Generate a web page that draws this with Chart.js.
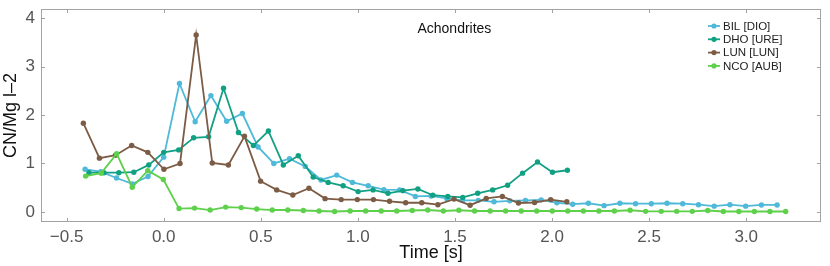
<!DOCTYPE html>
<html>
<head>
<meta charset="utf-8">
<script src="https://cdn.jsdelivr.net/npm/chart.js@4.4.1/dist/chart.umd.min.js"></script>
<style>
  html,body{margin:0;padding:0;background:#fff}
  #wrap{position:relative;width:830px;height:266px}
</style>
</head>
<body>
<div id="wrap"><canvas id="c"></canvas></div>
<script>
/* ===== datos ===== */
const chartTitle = 'Achondrites';
const seriesNames = ['BIL [DIO]','DHO [URE]','LUN [LUN]','NCO [AUB]'];
const seriesColors = ['#4fb9d9','#12a083','#7c5c45','#5fd04b'];

const bilT = [-0.405,-0.324,-0.243,-0.162,-0.081,0.000,0.081,0.162,0.243,0.324,0.405,0.486,0.567,0.648,0.729,0.810,0.891,0.972,1.053,1.134,1.215,1.296,1.377,1.458,1.539,1.620,1.701,1.782,1.863,1.944,2.025,2.106,2.187,2.268,2.349,2.430,2.511,2.592,2.673,2.754,2.835,2.916,2.997,3.078,3.159];
const bilV = [0.88,0.83,0.70,0.58,0.73,1.13,2.65,1.86,2.40,1.87,2.03,1.34,1.00,1.10,0.94,0.66,0.76,0.61,0.54,0.46,0.455,0.32,0.33,0.28,0.24,0.24,0.21,0.23,0.24,0.25,0.19,0.16,0.18,0.13,0.18,0.17,0.17,0.18,0.17,0.15,0.12,0.15,0.12,0.145,0.145];

const dhoT = [-0.385,-0.308,-0.231,-0.154,-0.077,0.000,0.077,0.154,0.231,0.308,0.385,0.462,0.539,0.616,0.693,0.770,0.847,0.924,1.001,1.078,1.155,1.232,1.309,1.386,1.463,1.540,1.617,1.694,1.771,1.848,1.925,2.002,2.079];
const dhoV = [0.81,0.81,0.81,0.82,0.97,1.23,1.28,1.53,1.55,2.55,1.64,1.37,1.67,0.97,1.16,0.72,0.61,0.54,0.42,0.455,0.385,0.44,0.475,0.345,0.32,0.30,0.385,0.455,0.55,0.80,1.03,0.82,0.86];

const lunT = [-0.414,-0.331,-0.248,-0.165,-0.082,0.001,0.084,0.167,0.250,0.333,0.416,0.499,0.582,0.665,0.748,0.831,0.914,0.997,1.080,1.163,1.246,1.329,1.412,1.495,1.578,1.661,1.744,1.827,1.910,1.993,2.076];
const lunV = [1.83,1.11,1.17,1.37,1.23,0.88,1.00,3.65,1.01,0.97,1.56,0.635,0.455,0.35,0.49,0.275,0.255,0.255,0.255,0.22,0.19,0.19,0.15,0.265,0.14,0.28,0.32,0.185,0.195,0.255,0.21];

const ncoT = [-0.402,-0.322,-0.242,-0.162,-0.082,-0.002,0.079,0.159,0.239,0.319,0.399,0.479,0.559,0.639,0.719,0.800,0.880,0.960,1.040,1.120,1.200,1.280,1.360,1.440,1.520,1.601,1.681,1.761,1.841,1.921,2.001,2.081,2.161,2.241,2.321,2.402,2.482,2.562,2.642,2.722,2.802,2.882,2.962,3.042,3.122,3.203];
const ncoV = [0.74,0.80,1.20,0.51,0.85,0.67,0.07,0.08,0.04,0.10,0.09,0.06,0.04,0.04,0.03,0.02,0.01,0.02,0.02,0.02,0.02,0.03,0.04,0.02,0.035,0.02,0.02,0.02,0.02,0.02,0.02,0.02,0.02,0.02,0.02,0.035,0.013,0.013,0.013,0.013,0.03,0.01,0.01,0.01,0.01,0.01];

const xTicks = [-0.5,0,0.5,1,1.5,2,2.5,3];
const yTicks = [0,1,2,3,4];

/* ===== helpers ===== */
const FONT = '"Liberation Sans", Arial, Helvetica, sans-serif';
const pts = (t,v) => t.map((x,i)=>({x, y:v[i]}));
const minus = s => String(s).replace('-','\u2212');

/* marco con marcas hacia adentro + título + leyenda */
const frame = {
  id:'frame',
  afterDraw(ch){
    const {ctx, chartArea:a, scales:{x,y}} = ch;
    ctx.save();
    ctx.strokeStyle='#a3a3a3'; ctx.lineWidth=1;
    ctx.strokeRect(a.left+.5, a.top+.5, a.right-a.left-1, a.bottom-a.top-1);
    ctx.beginPath();
    x.ticks.forEach(t=>{
      const px=Math.round(x.getPixelForValue(t.value))+.5;
      ctx.moveTo(px,a.bottom); ctx.lineTo(px,a.bottom-4);
      ctx.moveTo(px,a.top);    ctx.lineTo(px,a.top+4);
    });
    y.ticks.forEach(t=>{
      const py=Math.round(y.getPixelForValue(t.value))+.5;
      ctx.moveTo(a.left,py);  ctx.lineTo(a.left+4,py);
      ctx.moveTo(a.right,py); ctx.lineTo(a.right-4,py);
    });
    ctx.stroke();

    // título dentro del área
    ctx.fillStyle='#111'; ctx.font='14px '+FONT;
    ctx.textAlign='center'; ctx.textBaseline='middle';
    ctx.fillText(chartTitle, a.left+(a.right-a.left)*0.53, a.top+20);

    // leyenda
    ctx.font='11.5px '+FONT; ctx.textAlign='left';
    const lx=a.right-113, ly=a.top+17;
    ch.data.datasets.forEach((d,i)=>{
      const yy=ly+i*13.3;
      ctx.strokeStyle=d.borderColor; ctx.lineWidth=1.8;
      ctx.beginPath(); ctx.moveTo(lx,yy); ctx.lineTo(lx+12,yy); ctx.stroke();
      ctx.fillStyle=d.borderColor;
      ctx.beginPath(); ctx.arc(lx+6,yy,2.6,0,Math.PI*2); ctx.fill();
      ctx.fillStyle='#222'; ctx.fillText(d.label, lx+15, yy+0.5);
    });
    ctx.restore();
  }
};

const mk = (i,t,v) => ({
  label:seriesNames[i], data:pts(t,v),
  borderColor:seriesColors[i], backgroundColor:seriesColors[i],
  pointBackgroundColor:seriesColors[i], pointBorderWidth:0,
  pointRadius:2.7, borderWidth:1.8, tension:0, order:4-i
});

new Chart(document.getElementById('c'),{
  type:'line',
  data:{datasets:[mk(0,bilT,bilV),mk(1,dhoT,dhoV),mk(2,lunT,lunV),mk(3,ncoT,ncoV)]},
  options:{
    responsive:true, maintainAspectRatio:false, animation:false,
    layout:{padding:{top:9,right:9,left:0,bottom:0}},
    plugins:{legend:{display:false},tooltip:{enabled:false}},
    scales:{
      x:{type:'linear',min:-0.632,max:3.385,
        afterBuildTicks:s=>{s.ticks=xTicks.map(v=>({value:v}))},
        afterFit:s=>{s.height=44; s.paddingLeft=0; s.paddingRight=0},
        grid:{display:false,drawTicks:false,tickLength:0},border:{display:false},
        ticks:{padding:5,color:'#555',font:{size:17,family:FONT},callback:v=>minus(v.toFixed(1))},
        title:{display:true,text:'Time [s]',color:'#111',font:{size:18,family:FONT},padding:{top:0,bottom:2}}},
      y:{type:'linear',min:-0.207,max:4.186,
        afterBuildTicks:s=>{s.ticks=yTicks.map(v=>({value:v}))},
        afterFit:s=>{s.width=41; s.paddingTop=0; s.paddingBottom=0},
        grid:{display:false,drawTicks:false,tickLength:0},border:{display:false},
        ticks:{padding:6,color:'#555',font:{size:17,family:FONT},callback:v=>minus(v)},
        title:{display:true,text:'CN/Mg l\u20132',color:'#111',font:{size:18,family:FONT},padding:{top:0,bottom:0}}}
    }
  },
  plugins:[frame]
});
</script>
</body>
</html>
